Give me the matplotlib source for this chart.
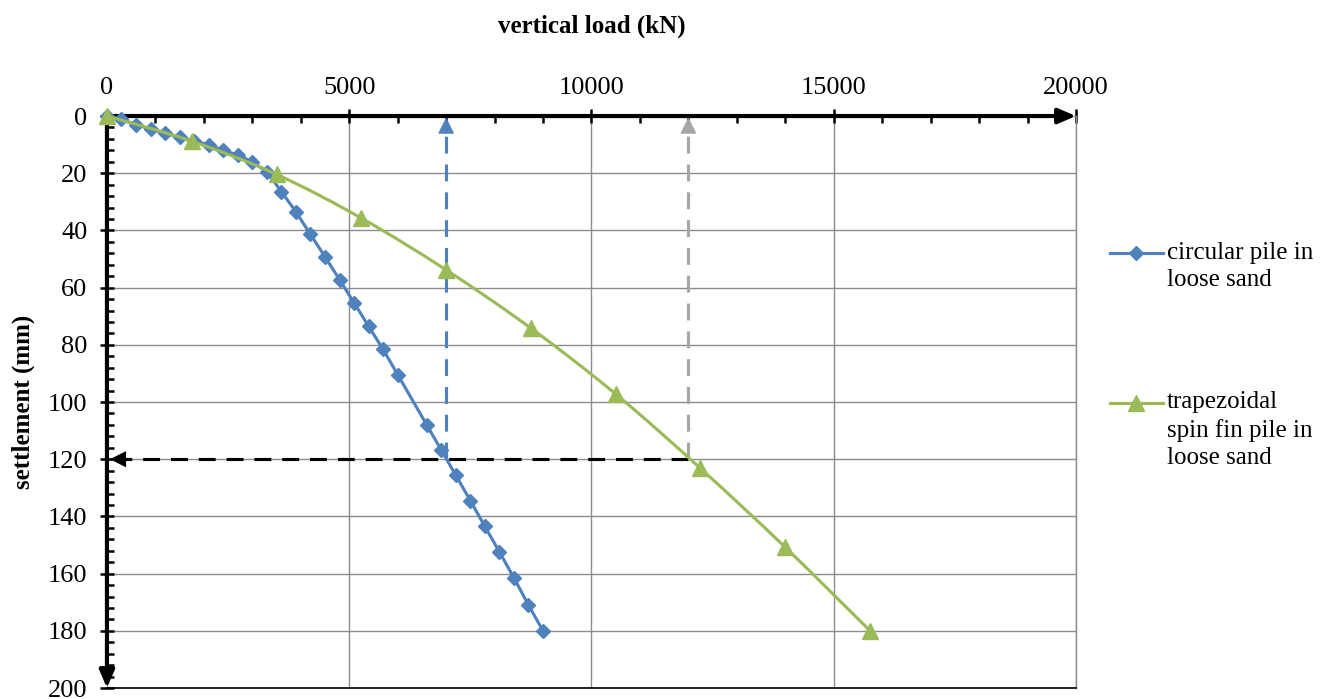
"""
Load-settlement curves: circular pile vs trapezoidal spin fin pile in loose sand.
"""

import numpy as np
import matplotlib.pyplot as plt
from matplotlib.lines import Line2D
from matplotlib.path import Path
from matplotlib.patches import PathPatch

plt.rcParams["font.family"] = ["Liberation Serif", "DejaVu Serif"]

# circular pile in loose sand (load kN, settlement mm)
circ_load = [0, 300, 600, 900, 1200, 1500, 1800, 2100, 2400, 2700, 3000, 3300,
             3600, 3900, 4200, 4500, 4800, 5100, 5400, 5700, 6000, 6600, 6900,
             7200, 7500, 7800, 8100, 8400, 8700, 9000]
circ_settle = [0, 1.2, 3.0, 4.6, 6.0, 7.4, 8.7, 10.1, 12.0, 13.6, 16.0, 19.5,
               26.4, 33.5, 41.4, 49.2, 57.2, 65.3, 73.5, 81.6, 90.4, 108.0, 116.8,
               125.6, 134.5, 143.5, 152.4, 161.5, 171.0, 180.0]

# trapezoidal spin fin pile in loose sand
trap_load = [0, 1750, 3500, 5250, 7000, 8750, 10500, 12250, 14000, 15750]
trap_settle = [0, 8.8, 20.4, 35.7, 53.8, 74.2, 97.2, 123.2, 150.8, 180.0]

# capacities read at the reference settlement
ref_settle = 120
cap_circ = 7000
cap_trap = 12000

x_ticks = [0, 5000, 10000, 15000, 20000]
y_ticks = list(range(0, 201, 20))

BLUE = "#4F81BD"
GREEN = "#9BBB59"
GRAY_DASH = "#A6A6A6"
GRID = "#8C8C8C"
DASH = (5.4, 3.5)


def smooth_path(x, y):
    # Excel-style smoothed line: cubic Bezier segments through the points
    p = np.column_stack([x, y]).astype(float)
    n = len(p)
    verts = [p[0]]
    codes = [Path.MOVETO]
    for i in range(n - 1):
        p0 = p[max(i - 1, 0)]
        p3 = p[min(i + 2, n - 1)]
        c1 = p[i] + (p[i + 1] - p0) / 6
        c2 = p[i + 1] - (p3 - p[i]) / 6
        verts += [c1, c2, p[i + 1]]
        codes += [Path.CURVE4] * 3
    return Path(verts, codes)


fig = plt.figure(figsize=(13.32, 6.99), dpi=100)
ax = fig.add_axes([0.0803, 0.0157, 0.7275, 0.8183])

ax.set_xlim(0, 20000)
ax.set_ylim(200, 0)
ax.xaxis.tick_top()
ax.xaxis.set_label_position("top")
ax.set_xticks(x_ticks)
ax.set_xticklabels([str(v) for v in x_ticks])
ax.set_yticks(y_ticks)
ax.set_xticks(range(0, 20001, 1000), minor=True)
ax.set_yticks(range(0, 201, 4), minor=True)
ax.tick_params(which="major", direction="inout", length=10, width=1.8,
               labelsize=19, color="black")
ax.tick_params(axis="x", which="major", pad=7)
ax.tick_params(axis="y", which="major", pad=9)
ax.tick_params(which="minor", direction="in", length=5, width=1.8, color="black")
ax.grid(True, which="major", color=GRID, lw=1)

for s in ["top", "left"]:
    ax.spines[s].set_visible(False)
ax.spines["bottom"].set_color("black")
ax.spines["bottom"].set_linewidth(1.2)
ax.spines["right"].set_color(GRID)
ax.spines["right"].set_linewidth(1)

# axis lines with arrows
axis_arrow = dict(arrowstyle="-|>,head_length=0.7,head_width=0.3", lw=3,
                  color="black", shrinkA=0, shrinkB=0, mutation_scale=15)
ax.annotate("", xy=(1, 1), xytext=(0, 1), xycoords="axes fraction",
            arrowprops=axis_arrow, annotation_clip=False, zorder=4)
ax.annotate("", xy=(0, 0), xytext=(0, 1), xycoords="axes fraction",
            arrowprops=axis_arrow, annotation_clip=False, zorder=4)

# reference dashed lines
ax.plot([cap_circ, cap_circ], [ref_settle, 3], color=BLUE, lw=2.25, dashes=DASH, zorder=3)
ax.plot([cap_trap, cap_trap], [ref_settle, 3], color=GRAY_DASH, lw=2.25, dashes=DASH, zorder=3)
ax.plot([cap_trap, 250], [ref_settle, ref_settle], color="black", lw=2.25, dashes=DASH, zorder=3)
head = dict(arrowstyle="-|>,head_length=0.8,head_width=0.4", lw=0.8,
            shrinkA=0, shrinkB=0, mutation_scale=13)
ax.annotate("", xy=(cap_circ, 0.5), xytext=(cap_circ, 6),
            arrowprops=dict(head, color=BLUE), zorder=3)
ax.annotate("", xy=(cap_trap, 0.5), xytext=(cap_trap, 6),
            arrowprops=dict(head, color=GRAY_DASH), zorder=3)
ax.annotate("", xy=(60, ref_settle), xytext=(450, ref_settle),
            arrowprops=dict(head, color="black"), zorder=3, annotation_clip=False)

# series
ax.plot(circ_load, circ_settle, color=BLUE, lw=2.25, marker="D", ms=7.5,
        clip_on=False, zorder=5)
ax.add_patch(PathPatch(smooth_path(trap_load, trap_settle), facecolor="none",
                       edgecolor=GREEN, lw=2.25, zorder=5))
ax.plot(trap_load, trap_settle, ls="none", color=GREEN, marker="^", ms=11,
        clip_on=False, zorder=6)

ax.set_xlabel("vertical load (kN)", fontsize=18, fontweight="bold", labelpad=32)
ax.set_ylabel("settlement (mm)", fontsize=18, fontweight="bold", labelpad=9)

# legend drawn at the right of the plot
entries = [(BLUE, "D", 7.5, "circular pile in\nloose sand", 0.638),
           (GREEN, "^", 11, "trapezoidal\nspin fin pile in\nloose sand", 0.4235)]
for color, mk, ms, label, y in entries:
    fig.add_artist(Line2D([0.8333, 0.8731], [y, y], transform=fig.transFigure,
                          color=color, lw=2.25))
    fig.add_artist(Line2D([0.8532], [y], transform=fig.transFigure, color=color,
                          marker=mk, ms=ms, ls="none"))
    fig.text(0.876, y + 0.0165, label, fontsize=18, va="top", ha="left",
             linespacing=1.3)

fig.savefig("out.png", dpi=100)
